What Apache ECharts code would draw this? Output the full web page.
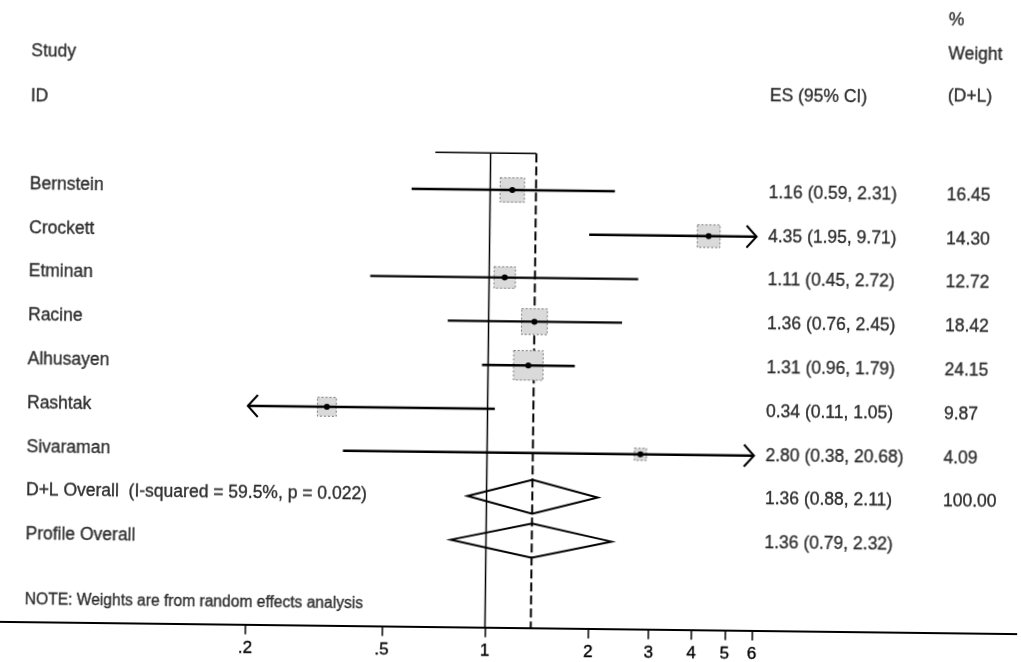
<!DOCTYPE html>
<html><head><meta charset="utf-8">
<script src="https://cdn.jsdelivr.net/npm/echarts@6/dist/echarts.min.js"></script>
<style>html,body{margin:0;padding:0;background:#fff;overflow:hidden}#c{width:1021px;height:662px;transform:rotate(0.69deg);transform-origin:50% 50%}</style>
</head><body><div id="c"></div>
<script>
// ---- data ----
const studies = ['Bernstein','Crockett','Etminan','Racine','Alhusayen','Rashtak','Sivaraman'];
const es      = [1.16, 4.35, 1.11, 1.36, 1.31, 0.34, 2.80];
const ciLow   = [0.59, 1.95, 0.45, 0.76, 0.96, 0.11, 0.38];
const ciHigh  = [2.31, 9.71, 2.72, 2.45, 1.79, 1.05, 20.68];
const weights = [16.45, 14.30, 12.72, 18.42, 24.15, 9.87, 4.09];
const overallLabels = ['D+L Overall  (I-squared = 59.5%, p = 0.022)', 'Profile Overall'];
const overallEs     = [1.36, 1.36];
const overallLow    = [0.88, 0.79];
const overallHigh   = [2.11, 2.32];
const overallWeight = ['100.00', ''];
const tickValues = [0.2, 0.5, 1, 2, 3, 4, 5, 6];
const nullValue = 1;
const studyHeader = ['Study', 'ID'];
const esHeader = 'ES (95% CI)';
const weightHeader = ['%', 'Weight', '(D+L)'];
const noteText = 'NOTE: Weights are from random effects analysis';

// ---- layout / style ----
const L = { xMin: 0.03765, xMax: 35.68, yMin: -3.338, yMax: 10.989, topRow: 0.16, topLineStart: 0.69,
            noteRow: 10.49, colStudy: 28, colEs: 767, colW: 945, boxK: 6, diamondHalf: 17,
            rowStudyHdr: [-2.03, -1.0], rowEsHdr: -1.21, rowWHdr: [-3.0, -2.21, -1.25] };
const FONT = '"Liberation Sans", Arial, Helvetica, sans-serif';
const FS = 17.5;
const INK = { color: '#000', textBorderColor: '#000', textBorderWidth: 0.35 };

const pMin = tickValues[0], pMax = tickValues[tickValues.length - 1];
const f2 = v => v.toFixed(2);

// text items
const texts = [];
function addText(x, row, t, size){
  const item = { value: [x, row], label: { formatter: t } };
  if (size) item.label.fontSize = size;
  texts.push(item);
}
addText(L.colStudy, L.rowStudyHdr[0], studyHeader[0]);
addText(L.colStudy, L.rowStudyHdr[1], studyHeader[1]);
addText(L.colEs, L.rowEsHdr, esHeader);
weightHeader.forEach((t, k) => addText(L.colW, L.rowWHdr[k], t));
studies.forEach((s, i) => {
  addText(L.colStudy, i + 1, s);
  addText(L.colEs, i + 1, f2(es[i]) + ' (' + f2(ciLow[i]) + ', ' + f2(ciHigh[i]) + ')');
  addText(L.colW, i + 1, f2(weights[i]));
});
overallLabels.forEach((s, j) => {
  const row = studies.length + 1 + j;
  addText(L.colStudy, row, s);
  addText(L.colEs, row, f2(overallEs[j]) + ' (' + f2(overallLow[j]) + ', ' + f2(overallHigh[j]) + ')');
  if (overallWeight[j]) addText(L.colW, row, overallWeight[j]);
});
addText(L.colStudy, L.noteRow, noteText, 15.6);

const studyData = studies.map((s, i) => [ciLow[i], ciHigh[i], es[i], i + 1, weights[i]]);
const overallData = overallLabels.map((s, j) => [overallLow[j], overallHigh[j], overallEs[j], studies.length + 1 + j]);

function renderStudy(params, api){
  const lo = api.value(0), hi = api.value(1), e = api.value(2), row = api.value(3), w = api.value(4);
  const a = api.coord([Math.max(lo, pMin), row]);
  const b = api.coord([Math.min(hi, pMax), row]);
  const c = api.coord([e, row]);
  const y = c[1];
  const side = L.boxK * Math.sqrt(w);
  const ch = [
    { type: 'rect', shape: { x: c[0] - side / 2, y: y - side / 2, width: side, height: side },
      style: { fill: '#dadada', stroke: '#777', lineWidth: 1, lineDash: [2, 2] } },
    { type: 'line', shape: { x1: a[0], y1: y, x2: b[0], y2: y }, style: { stroke: '#000', lineWidth: 2.4 } },
    { type: 'circle', shape: { cx: c[0], cy: y, r: 3 }, style: { fill: '#000' } }
  ];
  if (lo < pMin) ch.push({ type: 'polyline', shape: { points: [[a[0] + 10, y - 11], [a[0], y], [a[0] + 10, y + 11]] },
                           style: { stroke: '#000', lineWidth: 2, fill: null } });
  if (hi > pMax) ch.push({ type: 'polyline', shape: { points: [[b[0] - 10, y - 11], [b[0], y], [b[0] - 10, y + 11]] },
                           style: { stroke: '#000', lineWidth: 2, fill: null } });
  return { type: 'group', children: ch };
}
function renderOverall(params, api){
  const a = api.coord([api.value(0), api.value(3)]);
  const b = api.coord([api.value(1), api.value(3)]);
  const c = api.coord([api.value(2), api.value(3)]);
  const y = c[1], h = L.diamondHalf;
  return { type: 'polygon', shape: { points: [[a[0], y], [c[0], y - h], [b[0], y], [c[0], y + h]] },
           style: { fill: 'none', stroke: '#000', lineWidth: 2 } };
}

const chart = echarts.init(document.getElementById('c'));
chart.setOption({
  animation: false,
  backgroundColor: '#fff',
  grid: { left: 0, right: 0, top: 0, bottom: 34.5 },
  xAxis: [
    { type: 'log', logBase: 10, min: L.xMin, max: L.xMax, position: 'bottom',
      axisLine: { show: true, onZero: false, lineStyle: { color: '#000', width: 1.8 } },
      axisTick: { show: true, customValues: tickValues, length: 10, lineStyle: { color: '#000', width: 1.5 } },
      axisLabel: Object.assign({ show: true, customValues: tickValues, fontSize: 17, fontFamily: FONT, margin: 15,
                   formatter: v => (v < 1 ? String(v).replace(/^0/, '') : String(v)) }, INK),
      splitLine: { show: false }, minorTick: { show: false } },
    { type: 'value', min: 0, max: 1021, show: false }
  ],
  yAxis: { type: 'value', inverse: true, min: L.yMin, max: L.yMax, show: false },
  series: [
    { type: 'line', data: [[nullValue, L.topRow], [nullValue, L.yMax]], symbol: 'none',
      lineStyle: { color: '#000', width: 1.5 }, z: 1 },
    { type: 'line', data: [[overallEs[0], L.topRow], [overallEs[0], L.yMax]], symbol: 'none',
      lineStyle: { color: '#000', width: 2, type: [9, 4] }, z: 1 },
    { type: 'line', data: [[L.topLineStart, L.topRow], [overallEs[0], L.topRow]], symbol: 'none',
      lineStyle: { color: '#000', width: 1.5 }, z: 1 },
    { type: 'custom', renderItem: renderStudy, data: studyData, encode: { x: [0, 1, 2], y: 3 }, z: 3 },
    { type: 'custom', renderItem: renderOverall, data: overallData, encode: { x: [0, 1, 2], y: 3 }, z: 3 },
    { type: 'scatter', xAxisIndex: 1, data: texts, symbolSize: 0, silent: true,
      label: Object.assign({ show: true, position: 'right', distance: 0, fontSize: FS, fontFamily: FONT }, INK) }
  ]
});
</script>
</body></html>
